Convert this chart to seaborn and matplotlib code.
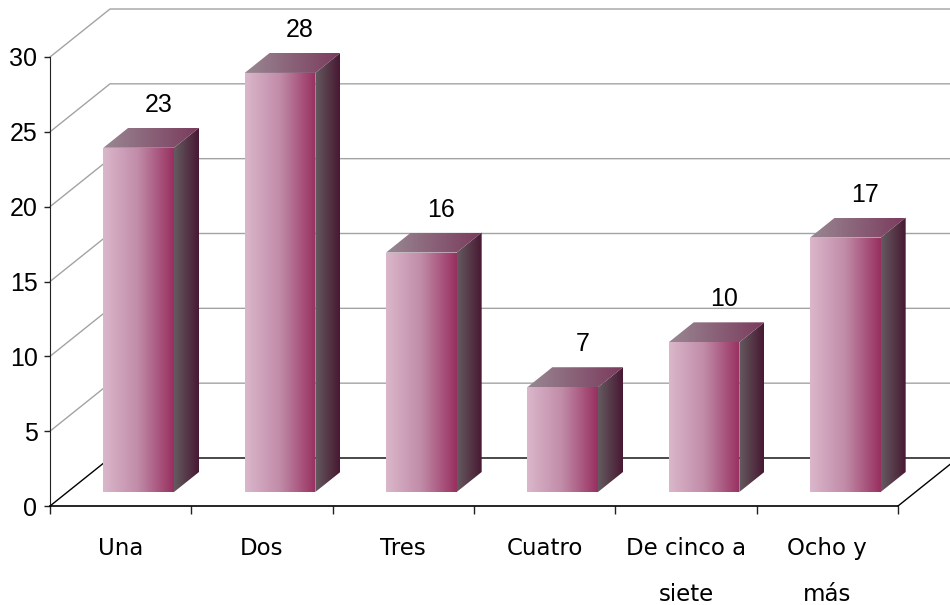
import numpy as np
import matplotlib
matplotlib.use("Agg")
import matplotlib.pyplot as plt
from matplotlib.colors import LinearSegmentedColormap
from matplotlib.patches import Polygon
import seaborn as sns

# data
categories = ["Una", "Dos", "Tres", "Cuatro", "De cinco a\nsiete", "Ocho y\nmás"]
values = [23, 28, 16, 7, 10, 17]
y_ticks = [0, 5, 10, 15, 20, 25, 30]

W, H, DPI = 950, 605, 100
WALL_DX, WALL_DY = 60, 48   # back wall offset (px)
BAR_DX, BAR_DY = 18, 14     # bars sit a little behind the front plane
SIDE_DX, SIDE_DY = 25, 20   # depth of each bar

front_cmap = LinearSegmentedColormap.from_list("front", ["#dbb7cb", "#c08ba7", "#982f60"])
side_cmap = LinearSegmentedColormap.from_list("side", ["#645b60", "#481832"])
top_cmap = LinearSegmentedColormap.from_list("top", ["#998893", "#7a3a5c"])

sns.set_style("white")
plt.rcParams["font.family"] = ["Liberation Sans", "DejaVu Sans"]
plt.rcParams["text.color"] = "black"
plt.rcParams["xtick.color"] = "black"
plt.rcParams["ytick.color"] = "black"

fig = plt.figure(figsize=(W / DPI, H / DPI), dpi=DPI)
ax = fig.add_axes([50 / W, 99 / H, 848 / W, 449 / H], zorder=2)
ax.patch.set_visible(False)

sns.barplot(x=categories, y=values, width=0.5, color=front_cmap(0.5), ax=ax)
ax.set_xlim(-0.5, len(categories) - 0.5)
ax.set_ylim(0, 30)
ax.set_xlabel("")
ax.set_ylabel("")

# axes / ticks
ax.set_yticks(y_ticks)
ax.tick_params(axis="y", left=True, length=4, width=1, color="#222222",
               labelcolor="black", labelsize=18, pad=5)
ax.set_xticks(np.arange(-0.5, len(categories), 1))
ax.set_xticklabels([])
ax.set_xticks(range(len(categories)), minor=True)
ax.set_xticklabels(categories, minor=True, fontsize=16.5, family="DejaVu Sans", linespacing=2.3)
ax.tick_params(axis="x", which="major", bottom=True, length=6, width=1, color="#222222")
ax.tick_params(axis="x", which="minor", bottom=True, length=0, pad=22, labelcolor="black")
for side in ["top", "right"]:
    ax.spines[side].set_visible(False)
ax.spines["left"].set_color("#222222")
ax.spines["bottom"].set_color("black")
ax.spines["bottom"].set_linewidth(1.2)

# overlay in pixel coordinates for the 3D decoration
ax2 = fig.add_axes([0, 0, 1, 1], zorder=1)
ax2.set_xlim(0, W)
ax2.set_ylim(0, H)
ax2.set_autoscale_on(False)
ax2.axis("off")

# walls / grid
x_left, x_right = ax.get_xlim()
for k in y_ticks:
    fx0, fy = ax.transData.transform((x_left, k))
    fx1, _ = ax.transData.transform((x_right, k))
    col = "black" if k == 0 else "#a3a3a3"
    ax2.plot([fx0, fx0 + WALL_DX, fx1 + WALL_DX + 20], [fy, fy + WALL_DY, fy + WALL_DY],
             color=col, lw=1, zorder=1, clip_on=False)
    if k == 0:
        ax2.plot([fx1, fx1 + WALL_DX], [fy, fy + WALL_DY], color=col, lw=1, zorder=1, clip_on=False)


def shade(pts, cmap, z):
    pts = np.asarray(pts)
    poly = Polygon(pts, closed=True, facecolor="none", edgecolor="none")
    ax2.add_patch(poly)
    img = ax2.imshow(np.linspace(0, 1, 256)[None, :], cmap=cmap, origin="lower",
                     extent=[pts[:, 0].min(), pts[:, 0].max(), pts[:, 1].min(), pts[:, 1].max()],
                     aspect="auto", interpolation="bilinear", zorder=z)
    img.set_clip_path(poly)


for i, p in enumerate(ax.patches):
    x0, x1 = p.get_x(), p.get_x() + p.get_width()
    px0, py0 = ax.transData.transform((x0, 0)) + (BAR_DX, BAR_DY)
    px1, py1 = ax.transData.transform((x1, p.get_height())) + (BAR_DX, BAR_DY)
    p.set_visible(False)
    shade([(px0, py0), (px1, py0), (px1, py1), (px0, py1)], front_cmap, 3)
    shade([(px1, py0), (px1 + SIDE_DX, py0 + SIDE_DY), (px1 + SIDE_DX, py1 + SIDE_DY), (px1, py1)],
          side_cmap, 3)
    shade([(px0, py1), (px1, py1), (px1 + SIDE_DX, py1 + SIDE_DY), (px0 + SIDE_DX, py1 + SIDE_DY)],
          top_cmap, 3)

for i, v in enumerate(values):
    ax.annotate(str(v), (i, v), xytext=(38, 57), textcoords="offset pixels",
                ha="center", va="center", fontsize=18, color="black")

fig.savefig("out.png", dpi=DPI)
